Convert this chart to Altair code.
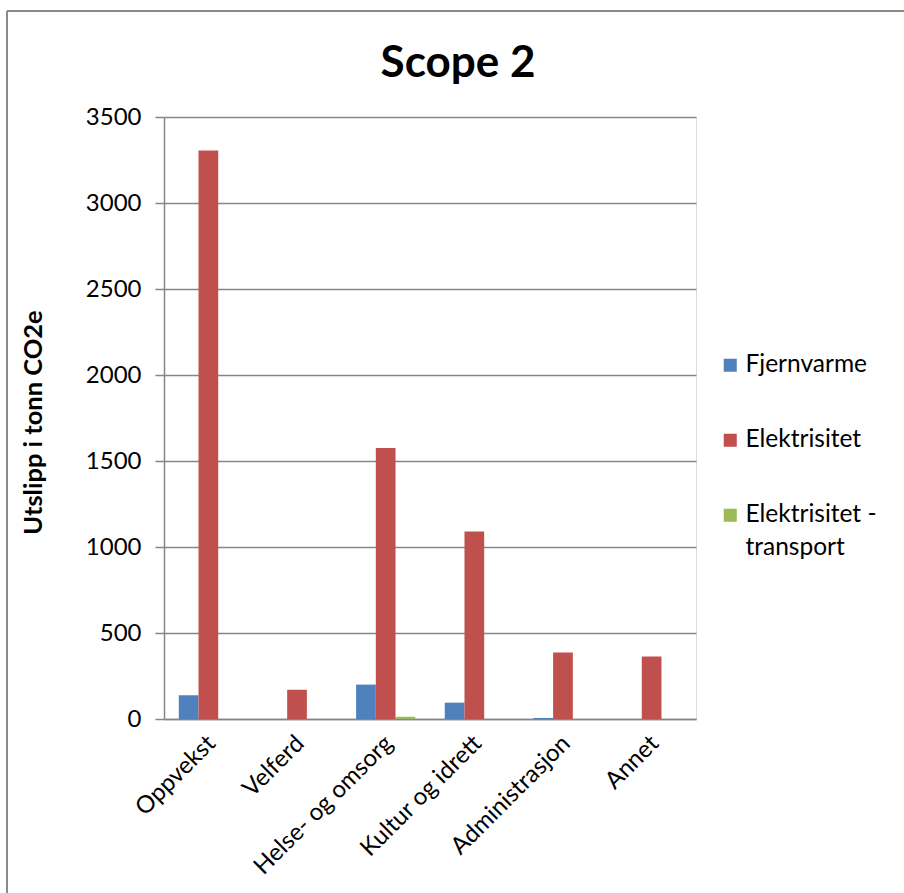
import altair as alt
import pandas as pd

categories = ["Oppvekst", "Velferd", "Helse- og omsorg", "Kultur og idrett", "Administrasjon", "Annet"]
series = ["Fjernvarme", "Elektrisitet", "Elektrisitet - transport"]
fjernvarme = [138, 0, 200, 95, 6, 0]
elektrisitet = [3305, 170, 1575, 1090, 386, 364]
elektrisitet_transport = [0, 0, 13, 0, 0, 0]
colors = ["#4F81BD", "#C0504D", "#9BBB59"]

rows = []
for s, vals in zip(series, [fjernvarme, elektrisitet, elektrisitet_transport]):
    for c, v in zip(categories, vals):
        rows.append({"Kategori": c, "Serie": s, "Verdi": v})
df = pd.DataFrame(rows)

FONT = "Lato"
GRID = "#868686"

bars = alt.Chart(df).mark_bar().encode(
    x=alt.X("Kategori:N", sort=categories,
            scale=alt.Scale(paddingInner=0.333, paddingOuter=0.167),
            axis=alt.Axis(title=None, labelAngle=-45, labelFontSize=24, labelFont=FONT,
                          ticks=False, labelPadding=12, labelLimit=400, labelOffset=-5,
                          domainColor=GRID, domainWidth=1.5,
                          labelColor="#000000", grid=False)),
    xOffset=alt.XOffset("Serie:N", sort=series, scale=alt.Scale(paddingInner=0, paddingOuter=0)),
    y=alt.Y("Verdi:Q", scale=alt.Scale(domain=[0, 3500], nice=False),
            axis=alt.Axis(title="Utslipp i tonn CO2e", values=list(range(0, 3501, 500)), format="d",
                          titleFont=FONT, titleFontSize=25.5, titleFontWeight="bold",
                          titleColor="#000000", titleX=-131, titleY=305, titleAngle=-90,
                          titleAlign="center", titleBaseline="middle",
                          labelFont=FONT, labelFontSize=24, labelColor="#000000",
                          labelPadding=14, tickSize=9, tickColor=GRID, tickWidth=1.5,
                          gridColor=GRID, gridWidth=1.5, domainColor=GRID, domainWidth=1.5)),
    color=alt.Color("Serie:N", sort=series,
                    scale=alt.Scale(domain=series, range=colors),
                    legend=alt.Legend(title=None, orient="none", legendX=554, legendY=236,
                                      symbolType="square", symbolSize=170, symbolStrokeWidth=0,
                                      labelFont=FONT, labelFontSize=24.5, labelColor="#000000",
                                      rowPadding=50, labelOffset=3, labelBaseline="middle",
                                      labelExpr="datum.label == 'Elektrisitet - transport' ? ['Elektrisitet -', 'transport'] : datum.label")),
)

border = alt.Chart(pd.DataFrame({"k": [0]})).mark_rule(color="#8A8A8A", strokeWidth=2).encode(
    x=alt.value(-157), y=alt.value(-106), y2=alt.value(790)
)
border_top = alt.Chart(pd.DataFrame({"k": [0]})).mark_rule(color="#8A8A8A", strokeWidth=2).encode(
    x=alt.value(-157), x2=alt.value(760), y=alt.value(-106)
)

chart = alt.layer(bars, border, border_top).properties(
    width=532, height=602,
    title=alt.TitleParams("Scope 2", font=FONT, fontSize=44, fontWeight="bold", color="#000000",
                          anchor="middle", frame="group", offset=0, dx=28, dy=111,
                          baseline="alphabetic"),
    autosize=alt.AutoSizeParams(type="none"),
    padding={"left": 164, "top": 117, "right": 208, "bottom": 174},
).configure_view(stroke="transparent").configure(
    background="#FFFFFF",
    style={"guide-label": {"lineHeight": 33}},
)

chart.save("out.html", embed_options={"renderer": "svg", "actions": False})
